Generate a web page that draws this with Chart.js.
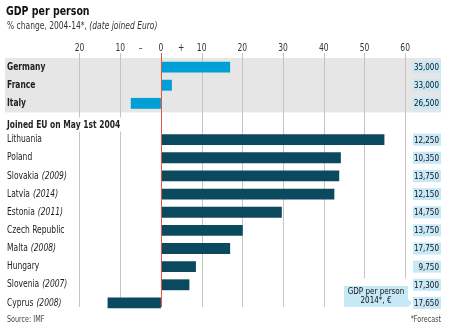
<!DOCTYPE html>
<html>
<head>
<meta charset="utf-8">
<script src="https://cdn.jsdelivr.net/npm/chart.js@4"></script>
<style>
  html, body { margin: 0; padding: 0; background: #fff; }
  #wrap { width: 450px; height: 329px; position: relative; }
</style>
</head>
<body>
<div id="wrap"><canvas id="myChart"></canvas></div>
<script>
// GDP per person, % change 2004-14

const countries = ['Germany', 'France', 'Italy', '', 'Lithuania', 'Poland', 'Slovakia', 'Latvia',
    'Estonia', 'Czech Republic', 'Malta', 'Hungary', 'Slovenia', 'Cyprus'];
const euroYears = [null, null, null, null, null, null, '2009', '2014', '2011', null, '2008', null, '2007', '2008'];
const change = [17, 2.7, -7.4, null, 54.9, 44.2, 43.8, 42.6, 29.7, 20.1, 17, 8.6, 7.0, -13.1];
const gdp2014 = ['35,000', '33,000', '26,500', null, '12,250', '10,350', '13,750', '12,150',
    '14,750', '13,750', '17,750', '9,750', '17,300', '17,650'];
const xTicks = [-20, -10, 0, 10, 20, 30, 40, 50, 60];
const groupHeader = 'Joined EU on May 1st 2004';

const FONT = '"DejaVu Sans Condensed", "DejaVu Sans", sans-serif';
const SQ = 0.84; // horizontal squeeze to mimic the narrow house font
const LIGHT = '#00a0d6';
const DARK = '#0b4a5e';

const barColors = change.map((v, i) => i < 3 ? LIGHT : DARK);

// draw narrow text, returns drawn width
function txt(ctx, s, x, y, font, color, align) {
    ctx.save();
    ctx.font = font;
    ctx.fillStyle = color;
    ctx.textAlign = 'left';
    const w = ctx.measureText(s).width * SQ;
    let x0 = x;
    if (align === 'right') x0 = x - w;
    if (align === 'center') x0 = x - w / 2;
    ctx.translate(x0, y);
    ctx.scale(SQ, 1);
    ctx.fillText(s, 0, 0);
    ctx.restore();
    return w;
}

const decor = {
    id: 'decor',
    beforeDatasetsDraw(chart) {
        const { ctx, chartArea: a, scales: { x, y } } = chart;
        const band = y.getPixelForValue(1) - y.getPixelForValue(0);
        ctx.save();
        // grey band for eurozone big three
        ctx.fillStyle = '#e6e6e6';
        ctx.fillRect(a.left, a.top, a.right - a.left, y.getPixelForValue(2) + band / 2 - a.top);

        // gridlines
        ctx.strokeStyle = '#c4c4c4';
        ctx.lineWidth = 1;
        const cut = y.getPixelForValue(12) - band * 0.35;
        xTicks.forEach(t => {
            if (t === 0) return;
            const px = Math.round(x.getPixelForValue(t)) + 0.5;
            const bottom = t >= 50 ? cut : a.bottom - 5;
            ctx.beginPath();
            ctx.moveTo(px, a.top - 5);
            ctx.lineTo(px, bottom);
            ctx.stroke();
        });

        // white behind group header
        ctx.font = 'bold 10px ' + FONT;
        const hy = y.getPixelForValue(3) + 3;
        const w = ctx.measureText(groupHeader).width * SQ;
        ctx.fillStyle = '#fff';
        ctx.fillRect(a.left, hy - 7, w + 6, 14);
        ctx.restore();
    },
    afterDatasetsDraw(chart) {
        const { ctx, chartArea: a, scales: { x, y } } = chart;
        ctx.save();
        // zero line
        const zx = Math.round(x.getPixelForValue(0)) + 0.5;
        ctx.strokeStyle = '#e2543f';
        ctx.lineWidth = 1;
        ctx.beginPath();
        ctx.moveTo(zx, a.top - 5);
        ctx.lineTo(zx, a.bottom - 5);
        ctx.stroke();

        ctx.textBaseline = 'alphabetic';
        // top tick labels
        const ty = a.top - 7;
        const tf = '10px ' + FONT;
        xTicks.forEach(t => txt(ctx, String(Math.abs(t)), x.getPixelForValue(t), ty, tf, '#333', 'center'));
        txt(ctx, '\u2013', x.getPixelForValue(-5), ty, tf, '#333', 'center');
        txt(ctx, '+', x.getPixelForValue(5), ty, tf, '#333', 'center');

        // category labels
        ctx.textBaseline = 'middle';
        countries.forEach((name, i) => {
            const py = y.getPixelForValue(i);
            const lx = a.left + 2;
            if (i === 3) {
                txt(ctx, groupHeader, lx, py + 4, 'bold 10px ' + FONT, '#222');
                return;
            }
            const nw = txt(ctx, name, lx, py, (i < 3 ? 'bold ' : '') + '10px ' + FONT, '#222');
            if (euroYears[i]) {
                txt(ctx, '(' + euroYears[i] + ')', lx + nw + 3, py, 'italic 10px ' + FONT, '#222');
            }
        });

        // value boxes
        gdp2014.forEach((v, i) => {
            if (!v) return;
            const py = y.getPixelForValue(i);
            ctx.fillStyle = '#c6e8f7';
            ctx.fillRect(a.right - 28, py - 6, 28, 12);
            txt(ctx, v, a.right - 2, py + 0.5, '9.5px ' + FONT, '#111', 'right');
        });

        // annotation box
        const by = y.getPixelForValue(13);
        const bx1 = a.right - 97, bx2 = a.right - 33;
        ctx.fillStyle = '#c6e8f7';
        ctx.fillRect(bx1, by - 17, bx2 - bx1, 21);
        ctx.beginPath();
        ctx.moveTo(bx2, by - 4);
        ctx.lineTo(bx2 + 4, by);
        ctx.lineTo(bx2, by + 4);
        ctx.fill();
        const mx = (bx1 + bx2) / 2;
        txt(ctx, 'GDP per person', mx, by - 11, '9.5px ' + FONT, '#111', 'center');
        txt(ctx, '2014*, \u20ac', mx, by - 2, '9.5px ' + FONT, '#111', 'center');

        // title, subtitle, footer
        ctx.textBaseline = 'alphabetic';
        txt(ctx, 'GDP per person', 6, 15, 'bold 12.5px ' + FONT, '#111');
        const sw = txt(ctx, '% change, 2004-14*, ', 7, 29, '10px ' + FONT, '#333');
        txt(ctx, '(date joined Euro)', 7 + sw, 29, 'italic 10px ' + FONT, '#333');

        txt(ctx, 'Source: IMF', 7, 322, '8.5px ' + FONT, '#444');
        txt(ctx, '*Forecast', a.right, 322, '8.5px ' + FONT, '#444', 'right');
        ctx.restore();
    }
};

const ctx = document.getElementById('myChart');
new Chart(ctx, {
    type: 'bar',
    data: {
        labels: countries,
        datasets: [{
            data: change,
            backgroundColor: barColors,
            borderWidth: 0,
            categoryPercentage: 1,
            barPercentage: 0.6
        }]
    },
    options: {
        indexAxis: 'y',
        responsive: true,
        maintainAspectRatio: false,
        animation: false,
        layout: { padding: { left: 5, right: 9, top: 58, bottom: 17 } },
        plugins: { legend: { display: false }, tooltip: { enabled: false } },
        scales: {
            x: { display: false, min: -38.3, max: 68.8 },
            y: { display: false }
        }
    },
    plugins: [decor]
});
</script>
</body>
</html>
